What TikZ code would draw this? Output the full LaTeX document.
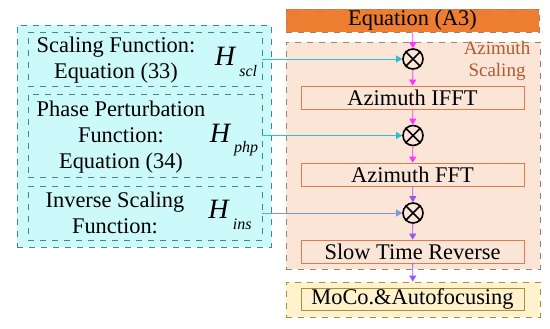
\documentclass[tikz,border=0pt]{standalone}
\usepackage{fontspec}
\setmainfont{Liberation Serif}
\usepackage{xcolor}
\usetikzlibrary{positioning,arrows.meta}

\definecolor{cyanfill}{HTML}{CCF9F9}
\definecolor{tealline}{HTML}{3A8C8C}
\definecolor{eqfill}{HTML}{ED7D31}
\definecolor{peachfill}{HTML}{FBE5D6}
\definecolor{peachline}{HTML}{A08070}
\definecolor{stepline}{HTML}{E07B50}
\definecolor{mocofill}{HTML}{FFF2CC}
\definecolor{mocoline}{HTML}{A09040}
\definecolor{labelbrown}{HTML}{B05A30}
\definecolor{flowmag}{HTML}{FF33FF}
\definecolor{flowvio}{HTML}{9955EE}
\definecolor{feedcyan}{HTML}{33BBDD}
\definecolor{feedblue}{HTML}{7799DD}

\newcommand{\Hsub}[1]{\textit{H}\kern1.5pt\raisebox{-0.8ex}{\fontsize{8}{8}\selectfont\textit{#1}}}

\begin{document}
\begin{tikzpicture}[
  x=0.5pt, y=-0.5pt,
  txt/.style={font=\rmfamily\fontsize{11.2}{13}\selectfont, align=center, inner sep=0pt},
  hlabel/.style={font=\rmfamily\fontsize{14}{14}\selectfont, inner sep=0pt},
  grpbox/.style={draw=tealline, dashed, fill=cyanfill, inner sep=0pt},
  fnbox/.style={draw=tealline, dashed, fill=cyanfill, inner sep=0pt, minimum width=117pt},
  stepbox/.style={draw=stepline, fill=peachfill, txt, minimum width=111.5pt, minimum height=11.5pt},
  mult/.style={circle, draw, thick, fill=peachfill, minimum size=10pt, inner sep=0pt},
  flow/.style={draw=flowmag!70, -{Triangle[length=3pt,width=3.5pt]}, flowmag},
  feed/.style={draw=feedcyan!80, -{Triangle[length=3pt,width=3.5pt]}, feedcyan}
]
  \useasboundingbox (0,0) rectangle (550,328);

  % function group (left column)
  \node[grpbox, minimum width=127pt, minimum height=111pt] (grp) at (144,136) {};
  \node[fnbox, minimum height=27pt] (s1) at (145,59) {};
  \node[fnbox, minimum height=41.5pt] (s2) at (145,135.5) {};
  \node[fnbox, minimum height=27pt] (s3) at (145,213) {};
  \node[txt] (t1) at (116,60) {Scaling Function:\\Equation (33)};
  \node[txt] (t2) at (121,137) {Phase Perturbation\\Function:\\Equation (34)};
  \node[txt] (t3) at (115,213) {Inverse Scaling\\Function:};
  \node[hlabel] (h1) at (236,62) {\Hsub{scl}};
  \node[hlabel] (h2) at (234,140) {\Hsub{php}};
  \node[hlabel] (h3) at (230,215) {\Hsub{ins}};

  % azimuth scaling chain (right column)
  \node[draw=peachline, dashed, fill=eqfill, txt, minimum width=126.5pt, minimum height=11.5pt] (eq) at (412.5,20.5) {Equation (A3)};
  \node[draw=peachline, dashed, fill=peachfill, minimum width=127pt, minimum height=113.5pt, inner sep=0pt] (scl) at (413,155.5) {};
  \node[font=\rmfamily\fontsize{9.5}{11}\selectfont, text=labelbrown, align=center, inner sep=0pt] (sclname) at (497,61) {Azimuth\\Scaling};
  \node[mult] (m1) at (413,59) {};
  \node[stepbox] (ifft) at (412.5,97.5) {Azimuth IFFT};
  \node[mult] (m2) at (413,135.5) {};
  \node[stepbox] (fft) at (412.5,174.5) {Azimuth FFT};
  \node[mult] (m3) at (413,213) {};
  \node[stepbox] (slow) at (412.5,251.5) {Slow Time Reverse};
  \node[draw=mocoline, dashed, fill=mocofill, minimum width=127pt, minimum height=17.5pt, inner sep=0pt] (mocogrp) at (413,299.5) {};
  \node[draw=mocoline!90!orange, fill=mocofill, txt, minimum width=111.5pt, minimum height=11pt] (moco) at (412.5,299) {MoCo.\&Autofocusing};
  \foreach \m in {m1,m2,m3} {
    \draw[thick] (\m.north west) -- (\m.south east) (\m.north east) -- (\m.south west);
  }

  \draw[flow] (eq) -- (m1);
  \draw[flow] (m1) -- (ifft);
  \draw[flow] (ifft) -- (m2);
  \draw[flow] (m2) -- (fft);
  \draw[flow, draw=flowvio!60, flowvio] (fft) -- (m3);
  \draw[flow, draw=flowvio!60, flowvio] (m3) -- (slow);
  \draw[flow, draw=flowvio!40, flowvio] (slow) -- (mocogrp);

  \draw[feed] (s1.east) -- (m1.west);
  \draw[feed] (s2.east) -- (m2.west);
  \draw[feed, draw=feedblue!80, feedblue] (s3.east) -- (m3.west);
\end{tikzpicture}
\end{document}
